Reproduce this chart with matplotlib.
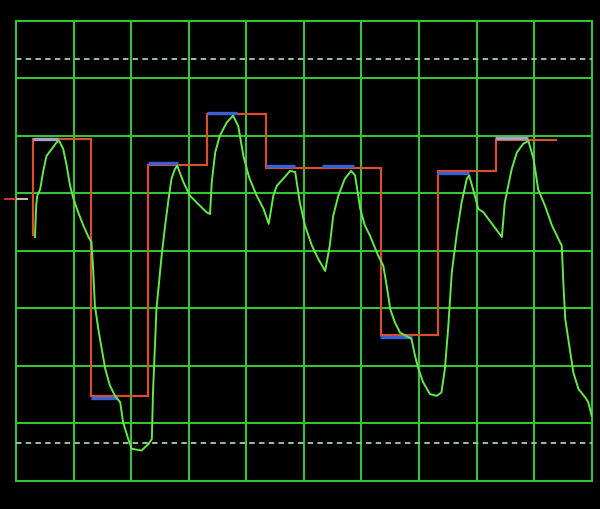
import numpy as np
import matplotlib
matplotlib.use("Agg")
import matplotlib.pyplot as plt

# Waveform (screen divisions)
wave_x = [0.33, 0.35, 0.37, 0.42, 0.47, 0.53, 0.62, 0.71, 0.75, 0.82, 0.88, 0.94, 1.00, 1.08, 1.17, 1.26,
          1.31, 1.34, 1.37, 1.43, 1.49, 1.55, 1.63, 1.72, 1.81, 1.86, 1.95, 2.01, 2.18, 2.30, 2.36, 2.38,
          2.44, 2.53, 2.59, 2.65, 2.70, 2.76, 2.80, 2.91, 3.02, 3.20, 3.31, 3.37, 3.40, 3.46, 3.54, 3.66,
          3.77, 3.86, 3.95, 4.04, 4.06, 4.18, 4.30, 4.39, 4.47, 4.53, 4.64, 4.76, 4.85, 4.93, 5.02, 5.14,
          5.25, 5.37, 5.45, 5.51, 5.60, 5.71, 5.82, 5.89, 5.98, 6.06, 6.15, 6.29, 6.38, 6.44, 6.50, 6.58,
          6.67, 6.87, 6.93, 6.99, 7.07, 7.19, 7.31, 7.39, 7.45, 7.51, 7.57, 7.66, 7.74, 7.83, 7.87, 7.94,
          8.03, 8.12, 8.29, 8.44, 8.49, 8.55, 8.61, 8.70, 8.81, 8.90, 8.99, 9.07, 9.19, 9.31, 9.42, 9.48,
          9.51, 9.54, 9.62, 9.68, 9.77, 9.89, 9.94, 10.00]
wave_y = [4.24, 4.78, 4.96, 5.07, 5.37, 5.65, 5.77, 5.89, 5.91, 5.77, 5.48, 5.13, 4.90, 4.67, 4.44, 4.24,
          4.15, 3.68, 3.05, 2.64, 2.29, 1.95, 1.66, 1.48, 1.37, 1.02, 0.73, 0.56, 0.53, 0.64, 0.73, 1.54,
          2.99, 3.92, 4.44, 4.90, 5.25, 5.42, 5.48, 5.19, 4.96, 4.78, 4.67, 4.64, 5.19, 5.71, 6.00, 6.23,
          6.35, 6.17, 5.65, 5.31, 5.25, 4.96, 4.73, 4.47, 4.96, 5.13, 5.25, 5.39, 5.37, 4.84, 4.44, 4.09,
          3.86, 3.65, 4.09, 4.61, 4.96, 5.25, 5.39, 5.31, 4.73, 4.44, 4.26, 3.92, 3.74, 3.39, 2.99, 2.76,
          2.58, 2.47, 2.18, 1.95, 1.72, 1.51, 1.48, 1.54, 1.95, 2.70, 3.63, 4.32, 4.84, 5.25, 5.31, 5.07,
          4.73, 4.67, 4.44, 4.24, 4.84, 5.13, 5.42, 5.71, 5.86, 5.91, 5.60, 5.07, 4.78, 4.44, 4.21, 4.09,
          3.39, 2.82, 2.29, 1.89, 1.60, 1.45, 1.37, 1.13]

# Step (setpoint) signal
step_start = 4.27
step_edges = [0.30, 1.30, 2.30, 3.32, 4.34, 5.34, 6.34, 7.33, 8.33, 9.38]
step_levels = [5.94, 1.47, 5.50, 6.37, 5.44, 5.44, 2.54, 5.38, 5.93]

# Target markers
mark_start = [0.30, 1.30, 2.29, 3.32, 4.34, 5.32, 6.32, 7.31, 8.32]
mark_end = [0.73, 1.75, 2.81, 3.84, 4.85, 5.87, 6.87, 7.87, 8.89]
mark_level = [5.95, 1.44, 5.53, 6.39, 5.47, 5.47, 2.50, 5.35, 5.96]
mark_kind = ["gray", "blue", "blue", "blue", "blue", "blue", "blue", "blue", "gray"]

trigger_level = 4.90
dashed_levels = [0.667, 7.333]

W, H = 600, 510
fig = plt.figure(figsize=(W / 100, H / 100), dpi=100, facecolor="black")
ax = fig.add_axes([16 / W, (H - 482) / H, (591.7 - 16) / W, (482 - 21.7) / H], facecolor="black")
ax.set_xlim(0, 10)
ax.set_ylim(0, 8)
for s in ax.spines.values():
    s.set_visible(False)
ax.set_xticks([])
ax.set_yticks([])

grid_c = "#38c238"
for gx in range(11):
    ax.axvline(gx, color=grid_c, lw=1.5, zorder=1, clip_on=False)
for gy in range(9):
    ax.axhline(gy, color=grid_c, lw=1.5, zorder=1, clip_on=False)
for dl in dashed_levels:
    ax.plot([0, 10], [dl, dl], color="#98c498", lw=1.4, ls=(0, (2.8, 2.2)), zorder=1)

# step path
sx = [step_edges[0]]
sy = [step_start]
for i, lv in enumerate(step_levels):
    sx += [step_edges[i], step_edges[i + 1]]
    sy += [lv, lv]
ax.plot(sx, sy, color="#d9502e", lw=1.6, zorder=3, solid_joinstyle="miter")

colors = {"gray": "#a8a0c8", "blue": "#3a60d8"}
for a, b, lv, k in zip(mark_start, mark_end, mark_level, mark_kind):
    ax.plot([a, b], [lv, lv], color=colors[k], lw=2.4, zorder=4, solid_capstyle="butt")

ax.plot(wave_x, wave_y, color="#66e84a", lw=1.4, zorder=5)

ax.plot([-0.19, 0.02], [trigger_level, trigger_level], color="#d03030", lw=1.5, clip_on=False, zorder=6)
ax.plot([0.02, 0.19], [trigger_level, trigger_level], color="#d0b8b0", lw=1.5, clip_on=False, zorder=6)

fig.savefig("out.png", dpi=100, facecolor="black")
